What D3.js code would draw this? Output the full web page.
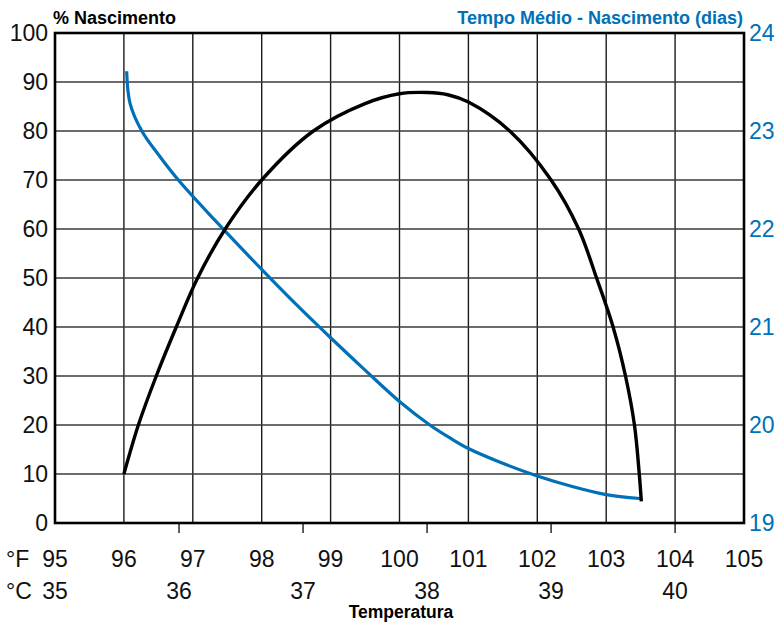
<!DOCTYPE html>
<html><head><meta charset="utf-8">
<script src="https://cdn.jsdelivr.net/npm/d3@7"></script>
<style>
html,body{margin:0;padding:0;background:#fff;}
svg{display:block;font-family:"Liberation Sans",Arial,Helvetica,sans-serif;}
</style></head>
<body><svg id="c" width="778" height="623"></svg>
<script>
// Data
const hatchF   = [96.0, 96.21, 96.47, 96.76, 97.07, 97.47, 98.0, 98.75, 99.5, 100.0, 100.4, 100.7, 101.0, 101.6, 102.2, 102.6, 102.86, 103.1, 103.28, 103.41, 103.48, 103.51];
const hatchPct = [10, 20, 30, 40, 50, 60, 70, 80, 85.6, 87.6, 87.85, 87.4, 85.9, 80, 70, 60, 50, 40, 30, 20, 10, 4.4];
const daysF    = [96.04, 96.09, 96.26, 96.5, 96.79, 97.32, 98.01, 98.5, 99.0, 99.5, 100.0, 100.44, 100.75, 101.0, 101.46, 102.0, 102.52, 103.0, 103.49];
const daysVal  = [23.61, 23.28, 23.0, 22.76, 22.5, 22.09, 21.58, 21.23, 20.89, 20.56, 20.24, 20.0, 19.86, 19.76, 19.62, 19.48, 19.37, 19.29, 19.25];
const fTicks   = [95, 96, 97, 98, 99, 100, 101, 102, 103, 104, 105];
const cTicks   = [35, 36, 37, 38, 39, 40];
const leftTicks  = [0, 10, 20, 30, 40, 50, 60, 70, 80, 90, 100];
const rightTicks = [19, 20, 21, 22, 23, 24];

const svg = d3.select("#c");
const L = 55, R = 744, T = 33, B = 523;
const blue = "#0070b8";

const x = d3.scaleLinear().domain([95, 105]).range([L, R]);
const yL = d3.scaleLinear().domain([0, 100]).range([B, T]);
const yR = d3.scaleLinear().domain([19, 24]).range([B, T]);
const c2f = c => c * 9 / 5 + 32;

// grid
const g = svg.append("g");
g.selectAll("line.v").data(fTicks.slice(1, -1)).join("line")
  .attr("x1", d => x(d)).attr("x2", d => x(d)).attr("y1", T).attr("y2", B)
  .attr("stroke", "#1a1a1a").attr("stroke-width", 1.4);
g.selectAll("line.h").data(leftTicks.slice(1, -1)).join("line")
  .attr("x1", L).attr("x2", R).attr("y1", d => yL(d)).attr("y2", d => yL(d))
  .attr("stroke", "#3a3a3a").attr("stroke-width", 1.4);

// celsius tick marks
g.selectAll("line.ct").data(cTicks.slice(1)).join("line")
  .attr("x1", d => x(c2f(d))).attr("x2", d => x(c2f(d))).attr("y1", B).attr("y2", B + 10)
  .attr("stroke", "#1a1a1a").attr("stroke-width", 1.4);

// curves
const lineH = d3.line().x(d => x(d[0])).y(d => yL(d[1])).curve(d3.curveCatmullRom.alpha(0.5));
const lineD = d3.line().x(d => x(d[0])).y(d => yR(d[1])).curve(d3.curveCatmullRom.alpha(0.5));
svg.append("path").attr("d", lineD(daysF.map((f, i) => [f, daysVal[i]])))
  .attr("fill", "none").attr("stroke", blue).attr("stroke-width", 3.2);
svg.append("path").attr("d", lineH(hatchF.map((f, i) => [f, hatchPct[i]])))
  .attr("fill", "none").attr("stroke", "#000").attr("stroke-width", 3.4);

// frame
svg.append("rect").attr("x", L).attr("y", T).attr("width", R - L).attr("height", B - T)
  .attr("fill", "none").attr("stroke", "#000").attr("stroke-width", 2.6);

// left axis labels
svg.append("g").selectAll("text").data(leftTicks).join("text")
  .attr("x", 48).attr("y", d => yL(d)).attr("dy", "0.36em").attr("text-anchor", "end")
  .attr("font-size", 23).attr("fill", "#111").text(d => d);
// right axis labels
svg.append("g").selectAll("text").data(rightTicks).join("text")
  .attr("x", 749).attr("y", d => yR(d)).attr("dy", "0.36em").attr("text-anchor", "start")
  .attr("font-size", 23).attr("fill", blue).text(d => d);

// F labels
svg.append("g").selectAll("text").data(fTicks).join("text")
  .attr("x", d => x(d)).attr("y", 567).attr("text-anchor", "middle")
  .attr("font-size", 23).attr("fill", "#111").text(d => d);
// C labels
svg.append("g").selectAll("text").data(cTicks).join("text")
  .attr("x", d => x(c2f(d))).attr("y", 599).attr("text-anchor", "middle")
  .attr("font-size", 23).attr("fill", "#111").text(d => d);
svg.append("text").attr("x", 6).attr("y", 567).attr("font-size", 23).attr("fill", "#111").text("°F");
svg.append("text").attr("x", 6).attr("y", 599).attr("font-size", 23).attr("fill", "#111").text("°C");

// titles
svg.append("text").attr("x", 53).attr("y", 24).attr("font-size", 18).attr("font-weight", "bold")
  .attr("fill", "#000").text("% Nascimento");
svg.append("text").attr("x", 743).attr("y", 24).attr("text-anchor", "end").attr("font-size", 18)
  .attr("font-weight", "bold").attr("fill", blue).text("Tempo Médio - Nascimento (dias)");
svg.append("text").attr("x", 401).attr("y", 618).attr("text-anchor", "middle").attr("font-size", 17.5)
  .attr("font-weight", "bold").attr("fill", "#000").text("Temperatura");
</script></body></html>
